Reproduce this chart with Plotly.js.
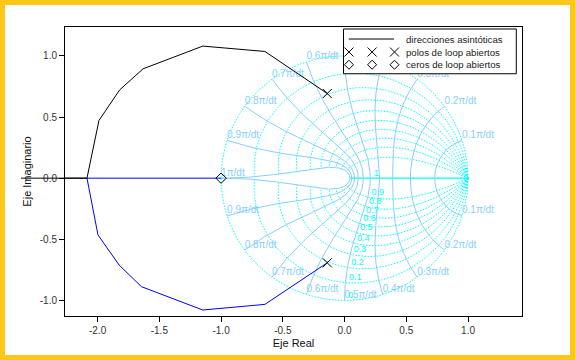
<!DOCTYPE html>
<html><head><meta charset="utf-8">
<script src="https://cdn.plot.ly/plotly-3.0.1.min.js"></script>
<style>
html,body{margin:0;padding:0;background:#FFC819;width:575px;height:360px;overflow:hidden;}
#chart{position:absolute;left:5px;top:5px;width:565px;height:350px;background:#fff;}
</style></head><body><div id="chart"></div>
<script>
// ---------- data ----------
const dampingRatios = [0, 0.1, 0.2, 0.3, 0.4, 0.5, 0.6, 0.7, 0.8, 0.9, 1];
const dampingLabels = ['0', '0.1', '0.2', '0.3', '0.4', '0.5', '0.6', '0.7', '0.8', '0.9', '1'];
const natFreqs = [0.1, 0.2, 0.3, 0.4, 0.5, 0.6, 0.7, 0.8, 0.9, 1]; // multiples of π/dt
const freqLabels = ['0.1π/dt', '0.2π/dt', '0.3π/dt', '0.4π/dt', '0.5π/dt', '0.6π/dt', '0.7π/dt', '0.8π/dt', '0.9π/dt', '1π/dt'];
const polesRe = [-0.14, -0.14];
const polesIm = [0.692, -0.692];
const zerosRe = [-1.0];
const zerosIm = [0.0];
const branch1Re = [-0.14, -0.645, -1.148, -1.632, -1.821, -1.989, -2.086, -2.62];
const branch1Im = [0.692, 1.036, 1.080, 0.894, 0.722, 0.472, 0.0, 0.0];
const branch2Re = [-0.14, -0.645, -1.148, -1.645, -1.826, -1.997, -2.086, -1.0];
const branch2Im = [-0.692, -1.032, -1.078, -0.887, -0.710, -0.464, 0.0, 0.0];
const xTickVals = [-2, -1.5, -1, -0.5, 0, 0.5, 1];
const xTickText = ['-2.0', '-1.5', '-1.0', '-0.5', '0.0', '0.5', '1.0'];
const yTickVals = [-1, -0.5, 0, 0.5, 1];
const yTickText = ['-1.0', '-0.5', '0.0', '0.5', '1.0'];
const legendLabels = ['direcciones asintóticas', 'polos de loop abiertos', 'ceros de loop abiertos'];

// ---------- layout constants ----------
const xRange = [-2.264, 1.437];
const yRange = [-1.127, 1.236];
const CYAN = '#00FFFF', LBLUE = '#87CFFF';
const FONT = 'Liberation Sans, Arial, Helvetica, sans-serif';

// paper helpers
const px = v => (v - xRange[0]) / (xRange[1] - xRange[0]);
const py = v => (v - yRange[0]) / (yRange[1] - yRange[0]);
// legend geometry (plot fraction)
const LB = {x0: 0.6094, x1: 0.9875, y0: 0.8382, y1: 0.9931};
const rowY = [0.9584, 0.9134, 0.8694];
const symX = [0.6214, 0.6720, 0.7210];
const underLegend = (x, y) => px(x) >= LB.x0 && px(x) <= LB.x1 && py(y) >= LB.y0 && py(y) <= LB.y1;

// z = exp(s dt), s = wn(-zeta ± j sqrt(1-zeta^2)), wn in units of π/dt
function zpt(zeta, wn, sgn) {
  const r = Math.exp(-zeta * wn * Math.PI);
  const a = sgn * wn * Math.PI * Math.sqrt(Math.max(0, 1 - zeta * zeta));
  return [r * Math.cos(a), r * Math.sin(a)];
}

// iso-damping curves
const zx = [], zy = [];
dampingRatios.filter(z => z < 1).forEach(z => {
  [1, -1].forEach(s => {
    for (let i = 0; i <= 120; i++) { const p = zpt(z, i / 120, s); zx.push(p[0]); zy.push(p[1]); }
    zx.push(null); zy.push(null);
  });
});
// zeta = 1 (real axis)
const z1x = [], z1y = [];
for (let i = 0; i <= 40; i++) { const p = zpt(1, i / 40, 1); z1x.push(p[0]); z1y.push(p[1]); }

// iso natural frequency curves
const wx = [], wy = [];
natFreqs.forEach(w => {
  [1, -1].forEach(s => {
    for (let i = 0; i <= 80; i++) { const p = zpt(i / 80, w, s); wx.push(p[0]); wy.push(p[1]); }
    wx.push(null); wy.push(null);
  });
});

// labels for natural frequencies (on unit circle); those hidden by the legend box are not drawn
const wlx = [], wly = [], wlt = [];
natFreqs.forEach((w, k) => {
  const s = (w < 1) ? [1, -1] : [1];
  s.forEach(sg => {
    const p = zpt(0, w, sg);
    if (underLegend(p[0], p[1])) return;
    wlx.push(p[0]); wly.push(p[1]); wlt.push(freqLabels[k]);
  });
});
// labels for damping ratios (on each curve, at wn = 0.5 π/dt, lower half)
const dlx = [], dly = [];
dampingRatios.forEach(z => { const p = zpt(z, 0.5, -1); dlx.push(p[0] + 0.03); dly.push(p[1]); });

const traces = [
  {x: zx, y: zy, mode: 'lines', line: {color: CYAN, width: 1, dash: '1.5px,1.5px'}, connectgaps: false},
  {x: z1x, y: z1y, mode: 'lines', line: {color: CYAN, width: 1.3}},
  {x: wx, y: wy, mode: 'lines', line: {color: LBLUE, width: 1}, connectgaps: false},
  {x: wlx, y: wly, mode: 'text', text: wlt, textposition: 'top right',
   textfont: {family: FONT, size: 10, color: LBLUE}},
  {x: dlx, y: dly, mode: 'text', text: dampingLabels, textposition: 'top right',
   textfont: {family: FONT, size: 9, color: CYAN}},
  {x: branch1Re, y: branch1Im, mode: 'lines', line: {color: '#000000', width: 1}},
  {x: branch2Re, y: branch2Im, mode: 'lines', line: {color: '#0000FF', width: 1}},
  {x: polesRe, y: polesIm, mode: 'markers', marker: {symbol: 'x-thin-open', size: 9, color: '#000', line: {color: '#000', width: 1}}},
  {x: zerosRe, y: zerosIm, mode: 'markers', marker: {symbol: 'diamond-open', size: 8, color: '#000', line: {color: '#000', width: 1}}}
];

const shapes = [
  // locus branch continuing beyond the frame (not clipped)
  {type: 'line', xref: 'paper', yref: 'paper', layer: 'above',
   x0: px(branch1Re[branch1Re.length - 1]), x1: px(branch1Re[branch1Re.length - 2]),
   y0: py(branch1Im[branch1Im.length - 1]), y1: py(branch1Im[branch1Im.length - 1]),
   line: {color: '#000', width: 1}},
  {type: 'rect', xref: 'paper', yref: 'paper', layer: 'above', x0: LB.x0, x1: LB.x1, y0: LB.y0, y1: LB.y1,
   fillcolor: '#FFFFFF', line: {color: '#000', width: 1}},
  {type: 'line', xref: 'paper', yref: 'paper', layer: 'above', x0: 0.6211, x1: 0.7202, y0: rowY[0], y1: rowY[0],
   line: {color: '#000', width: 1}}
];
symX.forEach(x => {
  shapes.push({type: 'path', xref: 'paper', yref: 'paper', layer: 'above', xsizemode: 'pixel', ysizemode: 'pixel',
    xanchor: x, yanchor: rowY[1], path: 'M-4.5,-4.5L4.5,4.5M-4.5,4.5L4.5,-4.5', line: {color: '#000', width: 1}});
  shapes.push({type: 'path', xref: 'paper', yref: 'paper', layer: 'above', xsizemode: 'pixel', ysizemode: 'pixel',
    xanchor: x, yanchor: rowY[2], path: 'M0,-4.5L4.5,0L0,4.5L-4.5,0Z', line: {color: '#000', width: 1}});
});
const annotations = legendLabels.map((t, i) => ({
  xref: 'paper', yref: 'paper', x: 0.742, y: rowY[i], xanchor: 'left', yanchor: 'middle', showarrow: false,
  text: t, font: {family: FONT, size: 9.6, color: '#222'}
}));

const axisCommon = {
  showline: true, linecolor: '#000', linewidth: 1, mirror: true, ticks: 'outside', ticklen: 5,
  tickcolor: '#000', tickwidth: 1, showgrid: false, zeroline: false, automargin: false,
  tickfont: {family: FONT, size: 10, color: '#333'}
};
const layout = {
  width: 565, height: 350,
  margin: {l: 60.3, r: 48, t: 22.3, b: 39, pad: 0},
  paper_bgcolor: '#FFFFFF', plot_bgcolor: '#FFFFFF',
  showlegend: false, hovermode: false,
  xaxis: Object.assign({}, axisCommon, {range: xRange, tickvals: xTickVals, ticktext: xTickText,
    title: {text: 'Eje Real', font: {family: FONT, size: 11, color: '#111'}, standoff: 4}}),
  yaxis: Object.assign({}, axisCommon, {range: yRange, tickvals: yTickVals, ticktext: yTickText,
    title: {text: 'Eje Imaginario', font: {family: FONT, size: 11, color: '#111'}, standoff: 5}}),
  shapes: shapes,
  annotations: annotations
};
Plotly.newPlot('chart', traces, layout, {staticPlot: true, displayModeBar: false});
</script></body></html>
